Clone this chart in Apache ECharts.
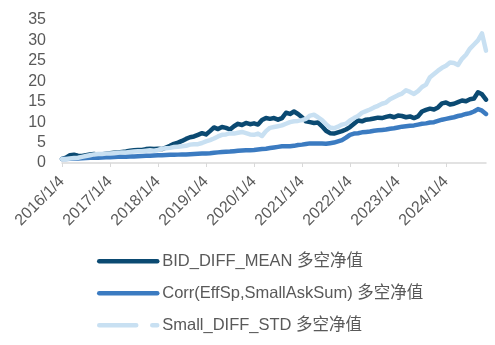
<!DOCTYPE html>
<html>
<head>
<meta charset="utf-8">
<script src="https://cdn.jsdelivr.net/npm/echarts@6/dist/echarts.min.js"></script>
<style>
  html, body { margin: 0; padding: 0; background: #fff; }
  #chart { width: 495px; height: 345px; }
</style>
</head>
<body>
<div id="chart"></div>
<script>
// Monthly net values, Jan 2016 .. Nov 2024
const startYear = 2016;
const tickLabels = ['2016/1/4', '2017/1/4', '2018/1/4', '2019/1/4', '2020/1/4',
                    '2021/1/4', '2022/1/4', '2023/1/4', '2024/1/4'];

const bidDiffMean = [
  1.0, 1.3, 1.9, 2.0, 1.8, 1.7, 1.9, 2.1, 2.2, 2.0, 2.1, 2.3,
  2.4, 2.5, 2.6, 2.7, 2.8, 3.0, 3.1, 3.2, 3.2, 3.4, 3.5, 3.4,
  3.5, 3.4, 3.8, 4.2, 4.7, 5.0, 5.4, 5.9, 6.3, 6.5, 6.9, 7.3,
  7.0, 7.8, 8.7, 8.3, 8.8, 8.6, 8.2, 9.0, 9.6, 9.3, 9.8, 9.5,
  9.7, 9.4, 10.5, 11.0, 10.8, 11.0, 10.6, 11.0, 12.3, 12.0, 12.6, 12.0,
  11.2, 10.2, 10.0, 9.8, 9.9, 9.0, 7.9, 7.3, 7.2, 7.5, 7.8, 8.2,
  8.8, 9.6, 10.4, 10.2, 10.6, 10.7, 10.9, 11.1, 11.0, 11.3, 11.5, 11.2,
  11.6, 11.5, 11.2, 11.4, 11.0, 11.4, 12.6, 13.0, 13.3, 13.1, 13.6, 14.6,
  14.8, 14.3, 14.5, 14.9, 15.3, 15.1, 15.6, 15.8, 17.3, 16.8, 15.5
];

const corrEffSp = [
  1.0, 1.0, 1.05, 1.1, 1.1, 1.15, 1.2, 1.3, 1.3, 1.3, 1.35, 1.4,
  1.4, 1.45, 1.5, 1.5, 1.55, 1.6, 1.6, 1.65, 1.7, 1.75, 1.8, 1.85,
  1.9, 1.9, 1.95, 2.0, 2.0, 2.05, 2.1, 2.1, 2.15, 2.2, 2.25, 2.3,
  2.35, 2.4, 2.5, 2.6, 2.7, 2.75, 2.8, 2.9, 3.0, 3.05, 3.1, 3.15,
  3.2, 3.3, 3.4, 3.5, 3.65, 3.8, 3.95, 4.1, 4.1, 4.1, 4.2, 4.4,
  4.5, 4.65, 4.8, 4.8, 4.8, 4.75, 4.7, 4.85, 5.0, 5.3, 5.6, 6.2,
  6.9, 7.2, 7.3, 7.5, 7.6, 7.7, 7.9, 8.0, 8.1, 8.2, 8.4, 8.5,
  8.7, 8.9, 9.0, 9.1, 9.2, 9.4, 9.6, 9.7, 9.9, 10.0, 10.3, 10.6,
  10.8, 11.0, 11.2, 11.5, 11.7, 12.0, 12.2, 12.6, 13.2, 12.8, 12.0
];

const smallDiffStd = [
  1.0, 1.0, 1.1, 1.2, 1.3, 1.5, 1.7, 1.9, 2.1, 2.2, 2.2, 2.3,
  2.3, 2.4, 2.5, 2.6, 2.6, 2.7, 2.8, 2.9, 2.9, 3.0, 3.1, 3.0,
  3.2, 3.5, 3.6, 3.7, 3.9, 4.0, 4.1, 4.2, 4.5, 4.6, 4.6, 4.9,
  5.3, 5.6, 6.0, 6.5, 6.9, 7.0, 7.3, 7.2, 7.4, 7.6, 7.3, 7.0,
  6.9, 7.2, 6.6, 7.8, 8.6, 8.8, 9.0, 9.2, 9.6, 10.0, 10.2, 10.3,
  10.5, 10.8, 11.6, 11.8, 11.2, 10.5, 9.5, 8.7, 8.5, 8.9, 9.4, 9.6,
  10.4, 11.0, 11.5, 12.3, 12.7, 13.1, 13.6, 14.0, 14.5, 14.8, 15.6, 16.1,
  16.6, 17.0, 17.8, 17.4, 16.9, 17.6, 18.6, 19.2, 21.0, 21.8, 22.6, 23.3,
  23.8, 24.6, 24.5, 24.0, 25.5, 26.5, 28.0, 29.0, 30.0, 31.7, 27.5
];

// one category per month, dated on the 4th
const dates = bidDiffMean.map((_, i) =>
  (startYear + Math.floor(i / 12)) + '/' + (i % 12 + 1) + '/4');

const seriesNames = ['BID_DIFF_MEAN 多空净值', 'Corr(EffSp,SmallAskSum) 多空净值', 'Small_DIFF_STD 多空净值'];
const colors = ['#0b4a72', '#3b7bc1', '#c8e0f2'];

const font = "'Liberation Sans', Arial, 'Noto Sans CJK SC', sans-serif";
const showTick = (idx, value) => tickLabels.indexOf(value) !== -1;

const chart = echarts.init(document.getElementById('chart'), null, { renderer: 'canvas' });

const makeLine = (name, data, color) => ({
  name: name,
  type: 'line',
  data: data,
  symbol: 'none',
  smooth: false,
  lineStyle: { color: color, width: 4.5, cap: 'round', join: 'round' },
  itemStyle: { color: color }
});

chart.setOption({
  animation: false,
  textStyle: { fontFamily: font },
  grid: { left: 62, right: 9, top: 20, bottom: 182 },
  xAxis: {
    type: 'category',
    data: dates,
    boundaryGap: false,
    axisLine: { lineStyle: { color: '#d9d9d9', width: 1.5 } },
    axisTick: { show: true, interval: showTick, length: 4, lineStyle: { color: '#d9d9d9' } },
    axisLabel: {
      interval: showTick,
      rotate: 45,
      margin: 16,
      fontSize: 16,
      color: '#595959',
      fontFamily: font
    },
    splitLine: { show: false }
  },
  yAxis: {
    type: 'value',
    min: 0,
    max: 35,
    interval: 5,
    axisLine: { show: false },
    axisTick: { show: false },
    splitLine: { show: false },
    axisLabel: { fontSize: 16, color: '#595959', margin: 16, fontFamily: font }
  },
  legend: {
    orient: 'vertical',
    left: 97,
    top: 253,
    height: 92,
    padding: 0,
    itemWidth: 58,
    itemHeight: 16,
    itemGap: 15.5,
    textStyle: { fontSize: 16.5, color: '#595959', fontFamily: font },
    itemStyle: { opacity: 0, borderWidth: 0 },
    lineStyle: { width: 4.5, cap: 'round' },
    data: [
      { name: seriesNames[0] },
      { name: seriesNames[1] },
      { name: seriesNames[2], lineStyle: { type: [37, 16], cap: 'round', width: 4.5 } }
    ]
  },
  series: [
    makeLine(seriesNames[0], bidDiffMean, colors[0]),
    makeLine(seriesNames[1], corrEffSp, colors[1]),
    makeLine(seriesNames[2], smallDiffStd, colors[2])
  ]
});
</script>
</body>
</html>
